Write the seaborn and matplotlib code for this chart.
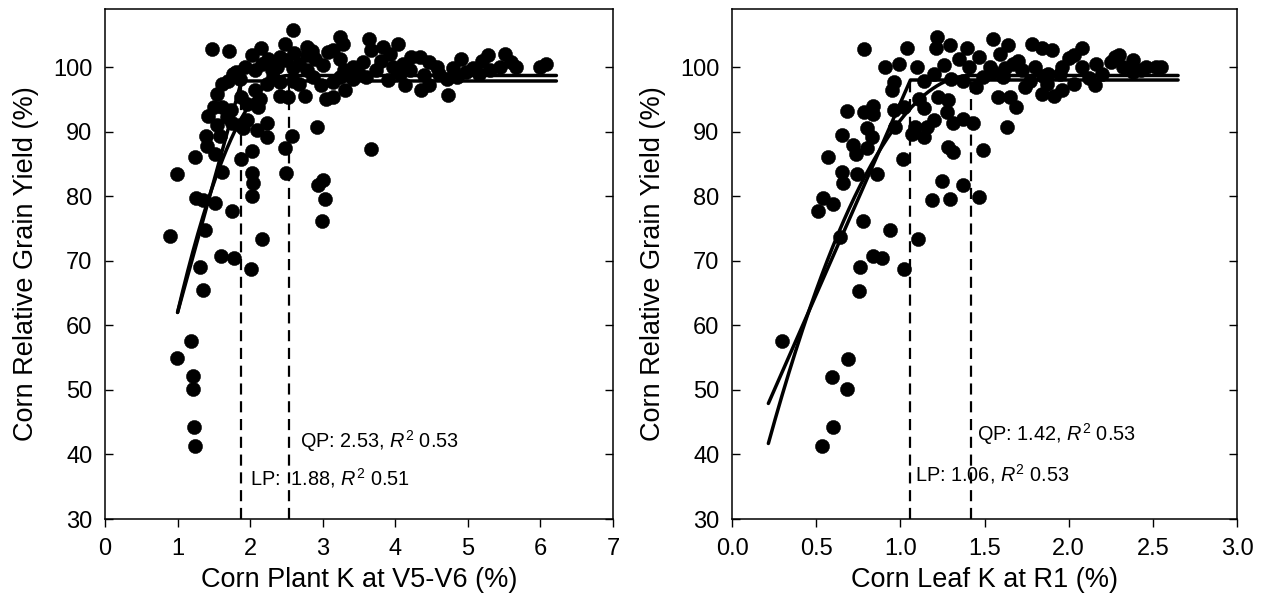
import numpy as np
import pandas as pd
import matplotlib
matplotlib.use("Agg")
import matplotlib.pyplot as plt
import seaborn as sns

# Corn plant K at V5-V6 (%) vs relative grain yield (%)
plant_k = [2.59, 1.48, 1.71, 3.24, 3.64, 4.04, 0.99, 0.89, 1.24, 1.39, 1.40, 1.52, 1.61, 1.25,
           1.35, 1.52, 1.75, 1.38, 1.60, 1.78, 1.31, 2.01, 1.35, 2.17, 1.88, 2.02, 2.02, 2.04,
           2.02, 2.09, 2.23, 2.23, 2.48, 2.50, 2.57, 2.92, 2.94, 3.01, 3.03, 2.99, 3.67, 4.72,
           2.75, 3.05, 3.14, 3.31, 2.41, 2.52, 4.13, 4.36, 4.47, 5.67, 5.99, 6.08, 5.51, 5.28,
           5.44, 4.91, 4.80, 5.07, 5.16, 4.71, 4.98, 4.22, 4.34, 4.46, 4.58, 3.83, 3.93, 3.67,
           3.56, 3.74, 3.97, 4.06, 3.42, 3.28, 3.14, 3.07, 2.78, 2.48, 2.15, 2.02, 1.93, 1.81,
           1.70, 1.61, 1.86, 1.88, 1.95, 1.50, 1.61, 1.73, 1.42, 1.54, 1.68, 1.75, 1.86, 1.95,
           1.90, 1.58, 2.11, 2.14, 2.07, 2.23, 2.32, 2.37, 2.50, 2.59, 2.68, 2.78, 2.87, 2.98,
           3.14, 3.24, 2.90, 3.24, 3.42, 2.68, 2.59, 2.41, 2.07, 2.16, 2.25, 2.41, 2.78, 1.77,
           1.19, 0.99, 1.21, 1.21, 1.23, 1.24, 3.50, 3.60, 3.90, 4.20, 4.40, 4.60, 4.85, 5.30,
           3.00, 3.30, 2.85, 2.30, 2.60, 3.80, 4.10, 5.60, 5.20, 1.55]
plant_yield = [105.8, 102.8, 102.5, 104.7, 104.4, 103.6, 83.5, 73.8, 86.1, 89.4, 87.8, 86.5, 83.8, 79.8,
               79.4, 78.9, 77.7, 74.7, 70.7, 70.4, 69.1, 68.8, 65.4, 73.4, 85.8, 87.0, 83.6, 82.0,
               80.0, 90.2, 89.2, 91.3, 87.5, 83.6, 89.3, 90.7, 81.8, 82.5, 79.6, 76.2, 87.3, 95.7,
               95.5, 95.0, 95.4, 96.4, 95.5, 95.4, 97.2, 96.5, 97.2, 100.0, 100.0, 100.5, 102.0, 101.8,
               100.0, 101.3, 99.8, 99.8, 99.0, 98.2, 99.3, 101.6, 101.6, 100.8, 100.0, 103.1, 102.1, 102.6,
               100.8, 99.5, 100.0, 99.0, 100.0, 103.6, 102.6, 102.3, 103.1, 103.6, 102.9, 101.8, 100.0, 99.2,
               97.9, 97.4, 98.2, 95.4, 94.3, 93.8, 93.8, 93.3, 92.5, 91.0, 92.3, 91.3, 91.0, 91.8,
               90.5, 89.4, 93.8, 95.1, 96.4, 97.4, 98.5, 100.0, 101.1, 99.8, 100.5, 99.5, 98.5, 97.2,
               97.7, 98.5, 101.3, 101.3, 98.2, 97.4, 97.9, 97.7, 99.5, 100.5, 101.3, 101.6, 101.8, 99.0,
               57.6, 55.0, 52.1, 50.1, 44.3, 41.3, 99.0, 98.5, 98.0, 99.5, 98.8, 99.0, 98.5, 99.6,
               100.3, 99.6, 102.5, 99.5, 102.2, 101.0, 100.5, 100.8, 101.0, 95.8]

# Corn leaf K at R1 (%) vs relative grain yield (%)
leaf_k = [0.786, 1.216, 1.21, 1.295, 1.394, 1.553, 1.642, 1.781, 1.84, 1.90, 2.08, 2.03, 2.276, 2.385,
          2.52, 2.55, 2.43, 2.157, 2.03, 1.91, 1.96, 1.84, 1.74, 1.69, 1.636, 1.58, 1.65, 1.49,
          1.47, 1.374, 1.295, 1.25, 1.187, 1.107, 1.022, 1.285, 1.31, 1.31, 1.37, 1.434, 1.018, 1.07,
          1.14, 1.09, 1.16, 1.20, 1.14, 1.11, 1.226, 1.285, 1.28, 0.968, 0.96, 1.02, 0.95, 0.96,
          0.909, 0.99, 1.04, 1.10, 1.14, 1.20, 1.26, 1.35, 1.41, 1.47, 1.53, 1.59, 1.67, 1.72,
          1.80, 1.88, 1.96, 2.08, 2.16, 2.20, 2.32, 2.46, 1.37, 1.45, 1.49, 1.61, 1.77, 1.87,
          0.681, 0.784, 0.84, 0.84, 0.804, 0.83, 0.652, 0.72, 0.735, 0.80, 0.572, 0.652, 0.66, 0.74,
          0.86, 0.543, 0.60, 0.513, 0.776, 0.642, 0.939, 0.836, 0.89, 0.76, 0.755, 0.295, 0.691, 0.592,
          0.681, 0.602, 0.537, 1.55, 1.70, 1.85, 2.00, 2.12, 2.25, 2.38, 1.62, 1.95, 2.30, 1.30]
leaf_yield = [102.8, 104.6, 102.9, 103.5, 102.9, 104.3, 103.5, 103.6, 102.9, 102.6, 102.9, 101.8, 101.6, 101.1,
              100.0, 100.0, 99.5, 97.2, 97.4, 95.6, 96.4, 95.9, 96.9, 93.8, 90.7, 95.4, 95.4, 87.2,
              79.9, 81.8, 79.5, 82.3, 79.4, 73.4, 68.7, 87.6, 86.9, 91.3, 92.0, 91.3, 85.7, 89.7,
              89.2, 90.7, 90.7, 91.8, 93.6, 95.1, 95.4, 94.9, 93.1, 90.7, 93.3, 93.8, 96.4, 97.7,
              100.0, 100.5, 102.9, 100.0, 97.9, 99.0, 100.3, 101.3, 100.0, 101.6, 100.0, 102.1, 100.5, 99.5,
              100.0, 99.0, 100.0, 100.0, 100.5, 99.0, 100.0, 100.0, 97.9, 96.9, 98.5, 98.5, 97.9, 97.4,
              93.2, 93.1, 93.9, 92.8, 90.6, 89.2, 89.5, 88.0, 86.5, 87.5, 86.1, 83.8, 82.0, 83.5,
              83.5, 79.8, 78.8, 77.7, 76.2, 73.7, 74.7, 70.7, 70.4, 69.1, 65.3, 57.6, 54.8, 52.0,
              50.1, 44.2, 41.3, 99.2, 101.0, 98.6, 101.4, 98.3, 100.8, 99.2, 99.8, 98.9, 101.9, 98.2]

# fitted models: (start x, start y, critical value, plateau, end x)
plant_lp = dict(x0=1.00, y0=62.0, crit=1.88, plateau=97.85, xend=6.22)
plant_qp = dict(x0=1.00, y0=62.0, crit=2.53, plateau=98.7, xend=6.22)
leaf_lp = dict(x0=0.216, y0=47.9, crit=1.06, plateau=98.0, xend=2.65)
leaf_qp = dict(x0=0.216, y0=41.7, crit=1.42, plateau=98.7, xend=2.65)

plant_labels = ("QP: 2.53, $R^2$ 0.53", "LP:  1.88, $R^2$ 0.51")
leaf_labels = ("QP: 1.42, $R^2$ 0.53", "LP: 1.06, $R^2$ 0.53")


def lp_curve(m):
    x = np.array([m["x0"], m["crit"], m["xend"]])
    y = np.array([m["y0"], m["plateau"], m["plateau"]])
    return pd.DataFrame({"x": x, "y": y})


def qp_curve(m):
    x = np.linspace(m["x0"], m["xend"], 300)
    k = (m["plateau"] - m["y0"]) / (m["crit"] - m["x0"]) ** 2
    y = np.where(x < m["crit"], m["plateau"] - k * (x - m["crit"]) ** 2, m["plateau"])
    return pd.DataFrame({"x": x, "y": y})


sns.set_style("white")
plt.rcParams["font.family"] = ["Liberation Sans", "DejaVu Sans"]
plt.rcParams["mathtext.fontset"] = "custom"
plt.rcParams["mathtext.it"] = "Liberation Sans:italic"
plt.rcParams["mathtext.rm"] = "Liberation Sans"
plt.rcParams["text.color"] = "black"
plt.rcParams["axes.labelcolor"] = "black"
plt.rcParams["xtick.color"] = "black"
plt.rcParams["ytick.color"] = "black"

fig = plt.figure(figsize=(12.61, 5.98), dpi=100)
ax1 = fig.add_axes([105 / 1261, 79 / 598, 508 / 1261, 510 / 598])
ax2 = fig.add_axes([732 / 1261, 79 / 598, 505 / 1261, 510 / 598])

panels = [
    (ax1, plant_k, plant_yield, plant_lp, plant_qp, plant_labels,
     "Corn Plant K at V5-V6 (%)", (0, 7), np.arange(0, 8, 1), "%d",
     [(2.69, 42.0), (2.00, 36.3)]),
    (ax2, leaf_k, leaf_yield, leaf_lp, leaf_qp, leaf_labels,
     "Corn Leaf K at R1 (%)", (0, 3), np.arange(0, 3.01, 0.5), "%.1f",
     [(1.454, 43.2), (1.087, 37.0)]),
]

for ax, xs, ys, lp, qp, labels, xlabel, xlim, xticks, fmt, txt_pos in panels:
    df = pd.DataFrame({"k": xs, "yield": ys})
    sns.scatterplot(data=df, x="k", y="yield", ax=ax, color="black", s=105,
                    edgecolor="black", linewidth=0.3, zorder=3)
    for curve in (lp_curve(lp), qp_curve(qp)):
        sns.lineplot(data=curve, x="x", y="y", ax=ax, color="black", lw=2.5,
                     sort=False, estimator=None, zorder=4)
    for m in (lp, qp):
        ax.vlines(m["crit"], 30, m["plateau"], colors="black", linestyles=(0, (5, 3)),
                  lw=1.6, zorder=2)
    ax.text(txt_pos[0][0], txt_pos[0][1], labels[0], fontsize=14.3, va="center")
    ax.text(txt_pos[1][0], txt_pos[1][1], labels[1], fontsize=14.3, va="center")

    ax.set_xlim(*xlim)
    ax.set_ylim(30, 109)
    ax.set_xticks(xticks)
    ax.set_xticklabels([fmt % t for t in xticks])
    ax.set_yticks(np.arange(30, 101, 10))
    ax.set_xlabel(xlabel, fontsize=19.5, labelpad=5)
    ax.set_ylabel("Corn Relative Grain Yield (%)", fontsize=19.5, labelpad=10)
    ax.tick_params(axis="x", direction="out", length=6, width=1, labelsize=17, pad=8,
                   bottom=True, top=False)
    ax.tick_params(axis="y", direction="in", length=6, width=1, labelsize=17, pad=9,
                   left=True, right=True)
    for sp in ax.spines.values():
        sp.set_linewidth(1.1)
        sp.set_color("black")

fig.savefig("out.png", dpi=100)
